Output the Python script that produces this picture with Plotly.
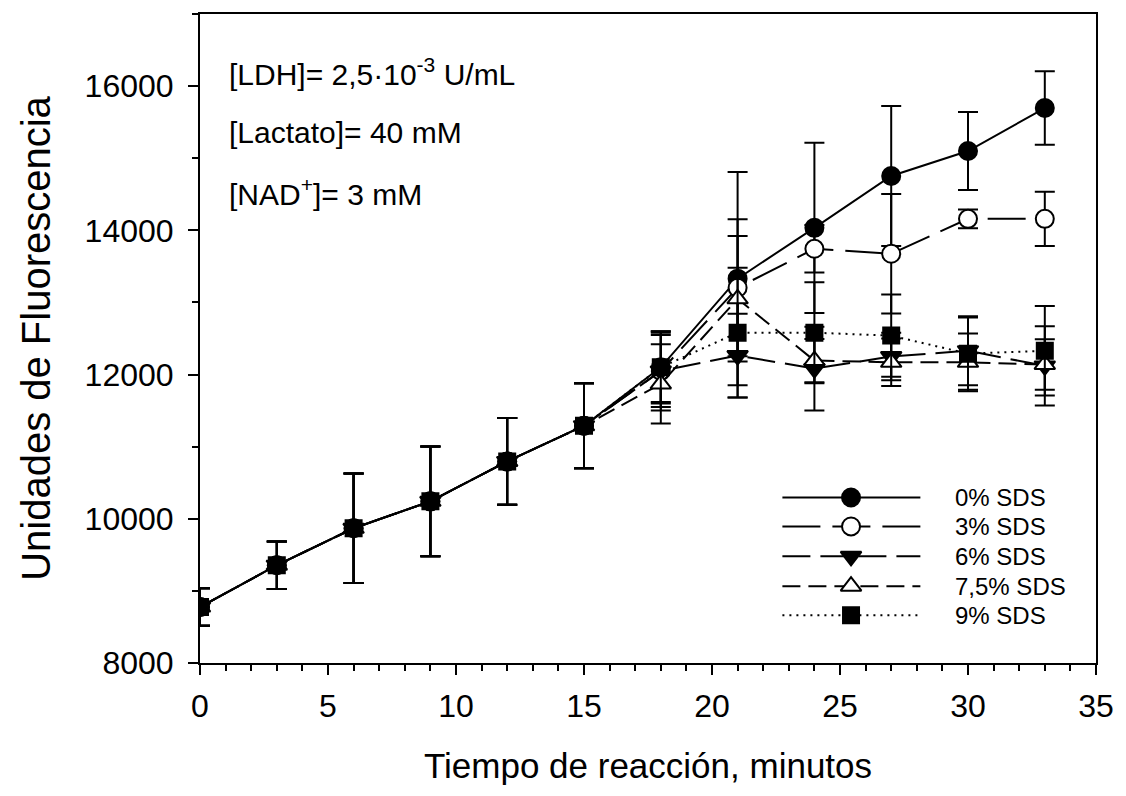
import plotly.graph_objects as go

# ---------------- data ----------------
tiempo = [0, 3, 6, 9, 12, 15, 18, 21, 24, 27, 30, 33]
series_names = ["0% SDS", "3% SDS", "6% SDS", "7,5% SDS", "9% SDS"]

comun_y = [8775, 9356, 9868, 10242, 10796, 11290]
comun_err = [260, 330, 760, 760, 600, 590]

sds0_y = comun_y + [12100, 13330, 14035, 14754, 15100, 15696]
sds0_err = comun_err + [500, 1480, 1180, 970, 540, 510]

sds3_y = comun_y + [12050, 13204, 13744, 13675, 14159, 14159]
sds3_err = comun_err + [550, 950, 330, 830, 130, 375]

sds6_y = comun_y + [12050, 12263, 12083, 12250, 12330, 12120]
sds6_err = comun_err + [500, 580, 580, 330, 480, 550]

sds75_y = comun_y + [11870, 13050, 12194, 12170, 12170, 12140]
sds75_err = comun_err + [550, 870, 300, 330, 400, 350]

sds9_y = comun_y + [12100, 12581, 12581, 12540, 12290, 12330]
sds9_err = comun_err + [480, 900, 700, 570, 500, 620]

x_ticks = [0, 5, 10, 15, 20, 25, 30, 35]
y_ticks = [8000, 10000, 12000, 14000, 16000]
y_ticktext = ["8000", "10000", "12000", "14000", "16000"]

# ---------------- style ----------------
FONT = "Liberation Sans, Arial, Helvetica, sans-serif"
styles = [
    dict(dash="solid", symbol="circle", fill="black", size=18),
    dict(dash="38px,12px", symbol="circle", fill="white", size=18),
    dict(dash="28px,10px", symbol="triangle-down", fill="black", size=18),
    dict(dash="18px,8px", symbol="triangle-up", fill="white", size=18),
    dict(dash="2px,5px", symbol="square", fill="black", size=16),
]
ys = [sds0_y, sds3_y, sds6_y, sds75_y, sds9_y]
errs = [sds0_err, sds3_err, sds6_err, sds75_err, sds9_err]

fig = go.Figure()
for name, y, e, st in zip(series_names, ys, errs, styles):
    fig.add_trace(go.Scatter(
        x=tiempo, y=y, name=name, mode="lines+markers",
        line=dict(color="black", width=2, dash=st["dash"]),
        marker=dict(symbol=st["symbol"], size=st["size"], color=st["fill"],
                    line=dict(color="black", width=2)),
        error_y=dict(type="data", array=e, visible=True, color="black",
                     thickness=2, width=10),
        showlegend=False,
    ))

# ---------------- custom legend on overlay axis ----------------
leg_x0, leg_xm, leg_x1 = 0.650, 0.7266, 0.804
leg_rows = [0.255, 0.2104, 0.1644, 0.1183, 0.0737]
for name, st, ry in zip(series_names, styles, leg_rows):
    fig.add_trace(go.Scatter(
        x=[leg_x0, leg_x1], y=[ry, ry], mode="lines", xaxis="x2", yaxis="y2",
        line=dict(color="black", width=2, dash=st["dash"]), showlegend=False,
        hoverinfo="skip"))
    fig.add_trace(go.Scatter(
        x=[leg_xm], y=[ry], mode="markers", xaxis="x2", yaxis="y2",
        marker=dict(symbol=st["symbol"], size=st["size"], color=st["fill"],
                    line=dict(color="black", width=2)),
        showlegend=False, hoverinfo="skip"))
    fig.add_annotation(x=0.840, y=ry, xref="paper", yref="paper", text=name,
                       showarrow=False, xanchor="left", yanchor="middle",
                       font=dict(size=24, color="black", family=FONT))

# ---------------- text annotations ----------------
notes = ["[LDH]= 2,5·10<sup>-3</sup> U/mL", "[Lactato]= 40 mM", "[NAD<sup>+</sup>]= 3 mM"]
note_y = [0.911, 0.817, 0.725]
for t, ny in zip(notes, note_y):
    fig.add_annotation(x=0.030, y=ny, xref="paper", yref="paper", text=t,
                       showarrow=False, xanchor="left", yanchor="middle",
                       font=dict(size=30, color="black", family=FONT))

axis_common = dict(showline=True, linecolor="black", linewidth=2, mirror=True,
                   ticks="outside", tickcolor="black", tickwidth=2, ticklen=10,
                   showgrid=False, zeroline=False,
                   tickfont=dict(size=32, color="black", family=FONT))

fig.update_layout(
    width=1126, height=796,
    margin=dict(l=200, r=30, t=12, b=133),
    paper_bgcolor="white", plot_bgcolor="white",
    font=dict(family=FONT, color="black"),
    xaxis=dict(range=[0, 35], tickvals=x_ticks,
               minor=dict(dtick=1, ticks="outside", ticklen=6, tickcolor="black", tickwidth=1.5),
               ticklabelstandoff=4,
               title=dict(text="Tiempo de reacción, minutos", standoff=30,
                          font=dict(size=35, family=FONT, color="black")),
               **axis_common),
    yaxis=dict(range=[8000, 17000], tickvals=y_ticks, ticktext=y_ticktext,
               minor=dict(dtick=1000, ticks="outside", ticklen=6, tickcolor="black", tickwidth=1.5),
               ticklabelstandoff=8,
               title=dict(text="Unidades de Fluorescencia", standoff=22,
                          font=dict(size=40, family=FONT, color="black")),
               **axis_common),
    xaxis2=dict(overlaying="x", range=[0, 1], visible=False, fixedrange=True),
    yaxis2=dict(overlaying="y", range=[0, 1], visible=False, fixedrange=True),
)

fig.write_html("out.html")
